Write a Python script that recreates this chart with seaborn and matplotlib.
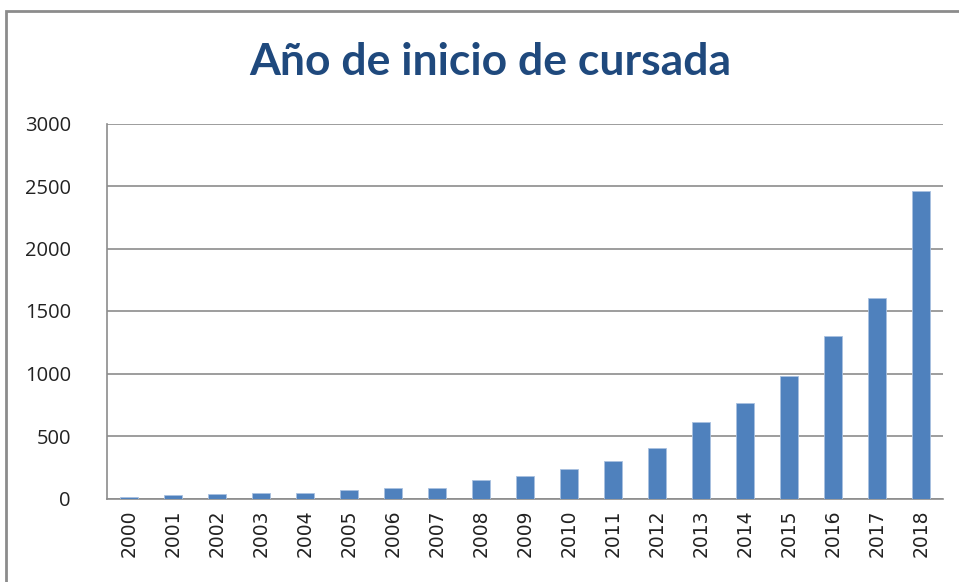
import matplotlib
matplotlib.use("Agg")
import matplotlib.pyplot as plt
import seaborn as sns
import pandas as pd
from matplotlib.patches import Rectangle

years = ["2000", "2001", "2002", "2003", "2004", "2005", "2006", "2007", "2008", "2009",
         "2010", "2011", "2012", "2013", "2014", "2015", "2016", "2017", "2018"]
counts = [16, 25, 35, 46, 46, 68, 86, 86, 148, 177,
          239, 301, 403, 609, 766, 980, 1302, 1601, 2463]
yticks = [0, 500, 1000, 1500, 2000, 2500, 3000]
title = "Año de inicio de cursada"

df = pd.DataFrame({"year": years, "count": counts})

sns.set_theme(style="white")
plt.rcParams["font.family"] = ["Lato", "DejaVu Sans"]

fig = plt.figure(figsize=(9.59, 5.82), dpi=100)
ax = fig.add_axes([107 / 959, 1 - 498.5 / 582, (943 - 107) / 959, (498.5 - 123.5) / 582])

sns.barplot(data=df, x="year", y="count", color="#4F81BD", width=0.41,
            saturation=1, ax=ax, zorder=3, edgecolor="#A9C1E0", linewidth=0.6)

ax.set_ylim(0, 3000)
ax.set_xlim(-0.5, len(years) - 0.5)
ax.set_yticks(yticks)
ax.set_yticklabels([str(v) for v in yticks], fontsize=14.5, color="#222222",
                   family=["Open Sans", "DejaVu Sans"])
ax.set_xticks(range(len(years)))
ax.set_xticklabels(years, rotation=90, fontsize=13.5, color="#222222",
                   family=["DejaVu Sans"])
ax.tick_params(axis="y", pad=26, length=0)
ax.tick_params(axis="x", pad=8, length=0)
ax.set_xlabel("")
ax.set_ylabel("")
ax.grid(axis="y", color="#8C8C8C", linewidth=1.2, zorder=0)
for s in ["top", "right"]:
    ax.spines[s].set_visible(False)
for s in ["left", "bottom"]:
    ax.spines[s].set_color("#8C8C8C")
    ax.spines[s].set_linewidth(1.2)

fig.text(490 / 959, 1 - 62 / 582, title, ha="center", va="center",
         fontsize=32, fontweight="bold", color="#1F497D",
         family=["Lato", "DejaVu Sans"])

fig.patches.append(Rectangle((6 / 959, -0.05), 1.2, 1 - 11 / 582 + 0.05,
                             transform=fig.transFigure, fill=False,
                             edgecolor="#8C8C8C", linewidth=2))

fig.savefig("out.png", dpi=100)
